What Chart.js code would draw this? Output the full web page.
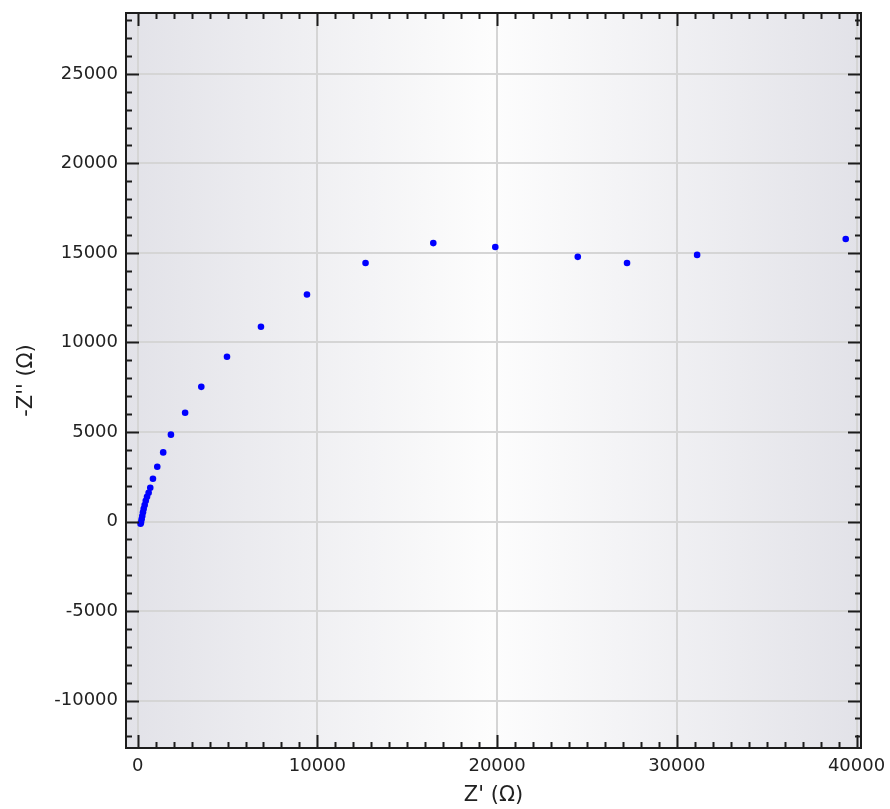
<!DOCTYPE html>
<html>
<head>
<meta charset="utf-8">
<script src="https://cdn.jsdelivr.net/npm/chart.js@4/dist/chart.umd.min.js"></script>
<style>
  html, body { margin: 0; padding: 0; background: #ffffff; }
  canvas { display: block; }
</style>
</head>
<body>
<canvas id="nyquist" width="890" height="809"></canvas>
<script>
// Impedance spectrum: real part Z' and negated imaginary part -Z'' (ohm)
const zReal = [39400, 31130, 27230, 24490, 19900, 16450, 12680, 9420, 6860, 4970,
               3540, 2640, 1850, 1420, 1090, 850, 700, 610, 520, 450,
               390, 335, 295, 255, 220, 185, 160];
const zImagNeg = [15780, 14890, 14440, 14780, 15330, 15550, 14440, 12680, 10880, 9200,
                  7520, 6070, 4850, 3860, 3060, 2390, 1880, 1600, 1380, 1160,
                  920, 710, 510, 310, 120, -60, -120];

// Axis ranges and tick labels
const xRange = [-650, 40250];
const yRange = [-12650, 28400];
const xTickValues = [0, 10000, 20000, 30000, 40000];
const yTickValues = [-10000, -5000, 0, 5000, 10000, 15000, 20000, 25000];
const minorStep = 1000;

const points = zReal.map((x, i) => ({ x: x, y: zImagNeg[i] }));

const FONT = "'DejaVu Sans', Verdana, sans-serif";

// Shaded plot background, framed box with inward major/minor ticks on all sides
const framePlugin = {
  id: 'frame',
  beforeDraw(chart) {
    const { ctx, chartArea: a } = chart;
    const g = ctx.createLinearGradient(a.left, 0, a.right, 0);
    g.addColorStop(0, '#e2e2e8');
    g.addColorStop(0.5, '#fdfdfd');
    g.addColorStop(1, '#e2e2e8');
    ctx.save();
    ctx.fillStyle = g;
    ctx.fillRect(a.left, a.top, a.right - a.left, a.bottom - a.top);
    ctx.restore();
  },
  afterDraw(chart) {
    const { ctx, chartArea: a, scales } = chart;
    const xs = scales.x, ys = scales.y;
    const major = 13, minor = 6;
    ctx.save();
    ctx.strokeStyle = '#1c1c1c';
    ctx.lineWidth = 2;
    ctx.beginPath();
    const startX = Math.ceil(xs.min / minorStep) * minorStep;
    for (let v = startX; v <= xs.max; v += minorStep) {
      const p = Math.round(xs.getPixelForValue(v)) + 0.5;
      const len = xTickValues.includes(v) ? major : minor;
      ctx.moveTo(p, a.bottom); ctx.lineTo(p, a.bottom - len);
      ctx.moveTo(p, a.top); ctx.lineTo(p, a.top + len);
    }
    const startY = Math.ceil(ys.min / minorStep) * minorStep;
    for (let v = startY; v <= ys.max; v += minorStep) {
      const p = Math.round(ys.getPixelForValue(v)) + 0.5;
      const len = yTickValues.includes(v) ? major : minor;
      ctx.moveTo(a.left, p); ctx.lineTo(a.left + len, p);
      ctx.moveTo(a.right, p); ctx.lineTo(a.right - len, p);
    }
    ctx.stroke();
    ctx.strokeRect(a.left, a.top, a.right - a.left, a.bottom - a.top);
    ctx.restore();
  }
};

new Chart(document.getElementById('nyquist'), {
  type: 'scatter',
  data: {
    datasets: [{
      data: points,
      backgroundColor: '#0000ff',
      borderColor: '#0000ff',
      pointRadius: 3.3,
      pointBorderWidth: 0
    }]
  },
  options: {
    responsive: false,
    devicePixelRatio: 1,
    animation: false,
    layout: { padding: { left: 0, top: 13, right: 29, bottom: 0 } },
    plugins: { legend: { display: false }, tooltip: { enabled: false } },
    scales: {
      x: {
        type: 'linear',
        min: xRange[0],
        max: xRange[1],
        afterBuildTicks(scale) { scale.ticks = xTickValues.map(v => ({ value: v })); },
        afterFit(scale) {
          scale.height = 61;
          scale.paddingLeft = 0;
          scale.paddingRight = 0;
        },
        grid: { color: '#d5d5d5', lineWidth: 2, drawTicks: false },
        border: { display: false },
        ticks: {
          padding: 8,
          color: '#222222',
          font: { family: FONT, size: 18 },
          maxRotation: 0,
          callback: v => String(v)
        },
        title: {
          display: true,
          text: "Z' (\u03A9)",
          color: '#222222',
          font: { family: FONT, size: 21 },
          padding: { top: 0, bottom: 1 }
        }
      },
      y: {
        type: 'linear',
        min: yRange[0],
        max: yRange[1],
        afterBuildTicks(scale) { scale.ticks = yTickValues.map(v => ({ value: v })); },
        afterFit(scale) {
          scale.width = 126;
          scale.paddingTop = 0;
          scale.paddingBottom = 0;
        },
        grid: { color: '#d5d5d5', lineWidth: 2, drawTicks: false },
        border: { display: false },
        ticks: {
          padding: 8,
          color: '#222222',
          font: { family: FONT, size: 18 },
          callback: v => String(v)
        },
        title: {
          display: true,
          text: "-Z'' (\u03A9)",
          color: '#222222',
          font: { family: FONT, size: 21 },
          padding: { top: 14, bottom: 0 }
        }
      }
    }
  },
  plugins: [framePlugin]
});
</script>
</body>
</html>
